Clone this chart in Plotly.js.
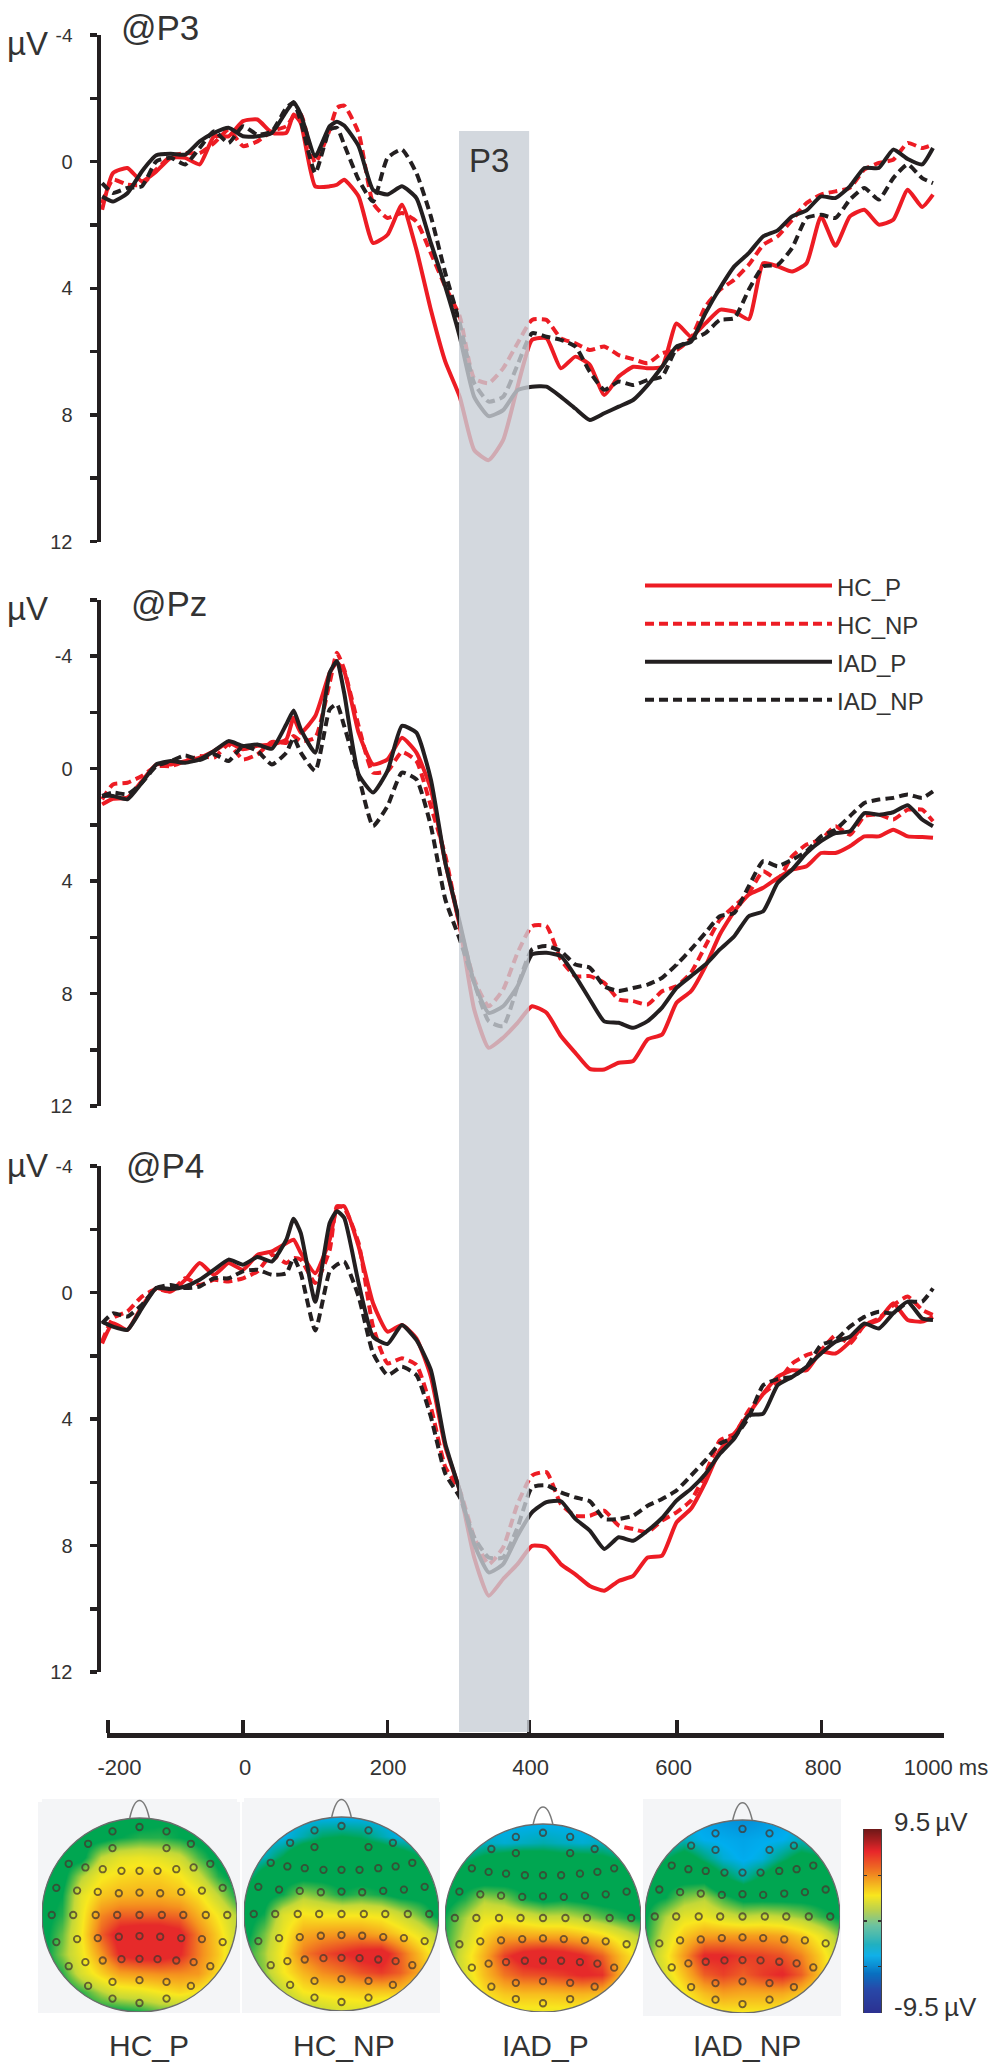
<!DOCTYPE html>
<html><head><meta charset="utf-8">
<script src="https://cdn.plot.ly/plotly-3.0.1.min.js"></script>
<style>html,body{margin:0;padding:0;background:#fff}</style></head>
<body><div id="chart" style="width:1000px;height:2069px"></div>
<script>
// ---------- ERP waveforms (ms, microvolts) ----------
const time = [-195,-180,-160,-140,-120,-100,-80,-60,-40,-20,0,20,40,60,70,80,100,120,130,140,160,180,200,220,240,260,280,300,
  320,340,360,380,400,420,440,460,480,500,520,540,560,580,600,620,640,660,680,700,720,740,760,780,800,820,840,860,880,900,920,940,955];

const P3_HC_P = [1.52,.36,.2,.62,.31,-.12,-.12,.09,-.8,-.8,-1.28,-1.33,-.91,-.91,-1.49,-1.22,.78,.78,.73,.57,1.1,2.57,2.31,1.36,2.78,4.68,6.32,7.43,
  9.11,9.43,8.8,7.11,5.63,5.58,6.53,6.16,6.42,7.37,6.79,6.48,6.53,6.48,5.11,5.53,5.11,4.68,4.74,4.98,3.21,3.31,3.47,3.21,1.73,2.66,1.73,1.52,1.99,1.84,.89,1.43,1.04];
const P3_HC_NP = [1.31,.57,.73,.73,.25,-.17,-.27,-.27,-.59,-1.01,-.49,-.64,-.96,-1.12,-1.43,-1.49,.04,-1.01,-1.7,-1.77,-.91,1.31,1.78,1.62,1.89,2.89,3.95,4.89,
  6.85,7.0,6.53,5.74,5.0,5.0,5.58,5.74,5.95,5.84,6.11,6.24,6.37,6.05,5.95,5.58,4.58,4.05,3.73,3.26,2.63,2.36,1.84,1.31,1.04,.94,.83,.25,.04,-.06,-.59,-.43,-.54];
const P3_IAD_P = [1.1,1.26,1.0,.31,-.2,-.25,-.22,-.64,-.91,-1.07,-.8,-.8,-.91,-1.59,-1.88,-1.49,-.17,-1.12,-1.26,-1.14,-.49,.89,1.04,.78,1.15,2.57,3.95,5.53,
  7.43,8.04,7.85,7.22,7.11,7.11,7.43,7.8,8.16,7.95,7.74,7.53,7.06,6.48,5.84,5.69,4.79,4.0,3.31,2.89,2.36,2.17,1.73,1.54,1.1,1.15,.78,.2,.2,-.38,-.08,.09,-.43];
const P3_IAD_NP = [.68,.99,.83,.78,-.01,-.12,.09,-.43,-.96,-.59,-1.12,-.85,-.96,-1.7,-1.86,-1.28,.36,-1.01,-1.07,-.54,.57,1.26,-.12,-.38,.36,1.73,3.52,5.1,
  7.0,7.58,7.43,6.42,5.42,5.53,5.63,5.84,6.64,7.21,6.95,7.06,6.9,6.79,5.9,5.63,5.42,5.0,4.95,4.05,3.31,3.26,2.73,1.78,1.68,1.78,1.2,.83,1.2,.52,.09,.52,.68];

const Pz_HC_P = [1.27,1.07,1.03,.44,-.15,-.15,-.27,-.39,-.63,-.92,-.69,-.81,-.86,-1.04,-1.81,-1.28,-1.87,-3.41,-3.77,-3.47,-1.28,-.15,-.33,-1.1,-.57,.73,3.34,5.59,
  8.57,9.93,9.57,9.04,8.45,8.68,9.51,10.11,10.68,10.7,10.46,10.4,9.63,9.46,8.33,7.92,7.03,5.9,5.07,4.48,4.24,3.89,3.59,3.47,3.0,3.0,2.76,2.41,2.41,2.17,2.41,2.43,2.46];
const Pz_HC_NP = [1.09,.56,.5,.26,-.09,-.09,-.27,-.45,-.39,-.86,-.33,-.51,-.95,-.92,-1.16,-.98,-1.1,-3.06,-4.12,-3.53,-1.52,.14,.08,-.59,-.27,1.33,3.1,5.59,
  7.5,8.45,7.86,6.55,5.6,5.6,6.79,7.38,7.38,7.62,8.21,8.27,8.39,7.92,7.74,7.26,6.31,5.37,4.89,4.42,3.65,3.95,3.12,2.7,2.52,2.05,2.35,1.69,1.63,1.81,1.46,1.46,1.87];
const Pz_IAD_P = [.97,.97,1.09,.5,-.15,-.27,-.21,-.33,-.63,-.98,-.81,-.86,-.71,-1.58,-2.07,-1.4,-.57,-3.41,-3.83,-2.7,.2,.85,.08,-1.52,-1.28,.38,3.34,5.47,
  7.62,8.69,8.45,7.74,6.61,6.55,6.67,7.38,8.21,8.99,9.04,9.22,8.98,8.5,7.8,7.38,6.97,6.43,5.96,5.25,5.07,4.06,3.59,3.0,2.58,2.29,2.23,1.58,1.64,1.55,1.3,1.81,2.05];
const Pz_IAD_NP = [.97,.85,.91,.5,-.09,-.27,-.47,-.31,-.51,-.27,-.81,-.63,-.15,-.57,-1.1,-.57,.08,-2.11,-2.29,-1.52,.26,2.04,1.33,.14,.38,2.04,4.65,6.07,
  7.62,8.98,9.16,7.74,6.43,6.31,6.49,6.97,7.08,7.74,7.91,7.8,7.68,7.44,6.97,6.43,5.84,5.25,5.13,4.18,3.29,3.47,3.24,2.94,2.41,2.17,1.69,1.22,1.1,1.04,.92,1.04,.81];

const P4_HC_P = [1.61,.97,1.18,.44,-.14,-.03,-.4,-.93,-.56,-.93,-.72,-1.19,-1.3,-1.56,-1.67,-1.25,-.61,-1.67,-2.67,-2.73,-1.46,.34,1.24,1.03,1.45,2.66,4.88,6.26,
  8.38,9.59,9.06,8.59,8.01,8.06,8.59,8.91,9.28,9.43,9.12,8.96,8.38,8.32,7.27,6.84,6.0,4.99,4.47,3.83,3.2,2.67,2.46,2.46,1.88,1.93,1.56,1.03,.87,.34,.87,.92,.77];
const P4_HC_NP = [1.55,.81,.6,.13,-.11,-.03,-.45,-.24,-.4,-.35,-.45,-.67,-1.19,-.93,-1.09,-1.04,-.3,-1.35,-2.73,-2.67,-1.56,1.08,2.24,2.08,2.29,3.62,5.52,6.26,
  7.74,8.59,8.06,6.69,5.79,5.68,6.69,7.06,7.06,6.9,7.37,7.48,7.58,7.21,6.95,6.58,5.73,4.68,4.47,3.73,3.2,2.83,2.25,1.98,1.82,1.35,1.61,1.03,.82,.4,.13,.55,.71];
const P4_IAD_P = [.92,1.08,1.18,.5,-.14,-.11,-.19,-.4,-.72,-1.04,-.88,-1.12,-.98,-1.67,-2.33,-1.88,.29,-2.2,-2.57,-2.36,-.3,1.4,1.63,1.03,1.5,2.45,4.78,6.26,
  7.95,8.85,8.59,7.69,6.95,6.63,6.6,7.16,7.53,8.11,7.74,7.85,7.53,7.13,6.58,6.21,5.74,5.1,4.62,3.88,3.83,2.93,2.67,2.35,1.93,1.56,1.4,.98,1.14,.66,.29,.82,.87];
const P4_IAD_NP = [.97,.66,.76,.39,-.14,-.24,-.14,-.19,-.45,-.45,-.67,-.72,-.56,-.61,-1.09,-.61,1.2,-.67,-.88,-.98,.13,1.92,2.61,2.35,2.61,3.93,5.73,6.47,
  7.74,8.38,8.38,7.43,6.16,6.1,6.32,6.48,6.6,7.16,7.16,7.06,6.74,6.53,6.26,5.79,5.31,4.78,4.57,3.94,2.93,2.74,2.67,2.35,1.66,1.5,1.08,.77,.61,.66,.29,.29,-.13];

const conditions = ['HC_P','HC_NP','IAD_P','IAD_NP'];
const channelNames = ['@P3','@Pz','@P4'];
const p3Window = [299,396];

// ---------- axes ----------
const yTicksShort = [-4,-2,0,2,4,6,8,10,12];
const yTicksLong  = [-6,-4,-2,0,2,4,6,8,10,12];
const yLabelsShort = ['<span style="font-size:19px">-4</span>','','0','','4','','8','','12'];
const yLabelsLong  = ['','-4','','0','','4','','8','','12'];
const xTickMarks = [-187,0,200,396,601,801];
const xLabelAt = [-171,3,201,398,596,803,973];
const xLabels = ['-200','0','200','400','600','800','1000 ms'];

// ---------- scalp maps: rows top to bottom, columns left to right ----------
const gridU = [-1,-.8,-.6,-.4,-.2,0,.2,.4,.6,.8,1];
const gridV = [1,.8,.6,.4,.2,0,-.2,-.4,-.6,-.8,-1];
const map_HC_P = [
 [-1,-1,-1,-1,-1,-1,-.8,-.6,-1,-1,-1],
 [-1,-1,-1,-1,-.6,-.3,-.3,-.6,-1,-1,-1],
 [-1,-1,-1,1,1.8,2,1.8,1.3,0,-1,-1],
 [-1,-1,.8,2.2,2.6,2.8,2.8,2.4,1.3,-.3,-1],
 [-1,-.6,1.8,3,3.4,3.5,3.5,3.2,2.5,1,-.5],
 [-1,-.3,2,4.3,5,5,5,4.8,3.5,2.2,.8],
 [-1,.2,2.2,5,6.5,6.8,6.8,6.3,4.5,2.8,1],
 [-1,.5,2,4,6,6.5,6.5,6,4.5,3,1],
 [-1,-.3,1.5,2.8,3.8,4,4.2,4.2,4,2.5,1],
 [-1,-1,-.3,.8,1.6,1.8,2.2,2.6,2.2,1.2,0],
 [-1,-1,-1,-.8,-.8,-.5,0,0,-.5,-1,-1]];
const map_HC_NP = [
 [-4.5,-4.5,-4.5,-4.5,-4.5,-4.5,-4.5,-4.5,-4.5,-4.5,-4.5],
 [-4.5,-4.5,-4.5,-3.8,-3,-2.8,-3,-3.8,-4.5,-4.5,-4.5],
 [-4.5,-4,-2.8,-1,-1,-1,-1,-1,-1.8,-3,-4],
 [-4,-2,-1,-1,-1,-1,-1,-1,-1,-1.2,-2],
 [-1.5,-1,-.5,.6,.2,-.5,-.2,-.5,-1,-1,-1],
 [-1,-.5,1.6,2.4,2.2,2.2,2.2,2,1.2,.2,-1],
 [-1,.3,2,3.6,3.9,4,4,3.6,2.8,1.8,.6],
 [-.5,.7,2.4,4.5,5.3,5.8,6.3,6.5,5,3.2,1.5],
 [-.5,.5,2.2,3.4,4.2,4.6,5.2,5.6,5,3.6,2],
 [-1,-.5,1,2.3,2.6,2.8,3,3,3,2,1],
 [-1,-1,0,.5,1,1.5,1.5,1,.5,0,-.5]];
const map_IAD_P = [
 [-4.5,-4.5,-4.5,-4.5,-4.5,-4.5,-4.5,-4.5,-4.5,-4.5,-4.5],
 [-4.5,-4.5,-4,-4.2,-4,-3.8,-4,-4.2,-4,-4.5,-4.5],
 [-4,-3,-2.2,-1.5,-1.2,-1.5,-1.8,-1.8,-2.2,-2.8,-3.5],
 [-1.5,-1,-1,-1,-1,-1,-1,-1,-1,-1,-1.5],
 [-1,-.3,.8,.5,-.4,-.8,-.6,-.8,-1,-1,-1],
 [-.5,.8,2,2,1.7,1.2,1.2,.8,.2,-.3,-.7],
 [-.3,1.2,2.8,3.8,3.8,3.8,3.8,3.4,2.8,1.8,.8],
 [-.3,1.8,3.5,5.5,6.5,6.8,6.5,6,5,3.2,1.8],
 [0,1.6,3.2,4.6,5.2,5.3,5.6,6,5.8,3.4,2],
 [.5,1,2.4,3,3.2,3.2,3.3,3.4,3.2,2,1],
 [1,1,1.5,2,2,2,2,2,1.5,1,1]];
const map_IAD_NP = [
 [-4.5,-4.5,-4.5,-4.8,-5.2,-5.5,-5.2,-4.8,-4.5,-4.5,-4.5],
 [-4.5,-4.5,-4,-4.5,-4.6,-4.8,-4.6,-4.5,-4,-4.5,-4.5],
 [-4,-3,-2,-3.2,-4.2,-4.6,-4.3,-3.2,-2.2,-2.6,-3.5],
 [-1.5,-1,-1,-1,-2.5,-3.6,-2.5,-1,-1,-1,-1],
 [-1,-.6,.4,.8,-.2,-1,-1,-1,-1,-1,-1],
 [-.7,.8,1.8,2,1.4,1,1.2,1,.6,-.2,-.8],
 [-.5,1.4,3,3.8,3.9,3.9,3.9,3.7,3,1.9,.4],
 [0,2,4,6,6,5.6,5.5,5.2,4.4,2.8,1],
 [0,1.6,3.2,5,5.5,5,5.6,6,5,3,1.5],
 [.5,.8,2.2,3.2,3.8,3.6,3.6,3.6,3,2,1],
 [1,1,1.5,2,2.2,2.2,2.2,2,1.5,1,1]];

// electrode positions in head units (x right, y up)
const electrodeU = [0,-.277,.277,-.527,.527,-.277,.277,-.726,.726,-.555,.555,-.377,.377,-.185,.185,0,
 -.853,.853,-.64,.64,-.428,.428,-.212,.212,0,-.9,-.68,-.449,-.229,0,.229,.449,.68,.9,
 -.853,.853,-.64,.64,-.428,.428,-.212,.212,0,-.726,.726,-.555,.555,-.377,.377,-.185,.185,0,
 -.527,.527,-.277,.277,0,-.277,.277,0];
const electrodeV = [.907,.862,.862,.734,.734,.69,.69,.528,.528,.49,.49,.472,.472,.455,.455,.455,
 .28,.28,.252,.252,.238,.238,.224,.224,.231,0,0,0,0,0,0,0,0,0,
 -.279,-.279,-.248,-.248,-.238,-.238,-.224,-.224,-.217,-.528,-.528,-.486,-.486,-.469,-.469,-.455,-.455,-.452,
 -.731,-.731,-.69,-.69,-.672,-.862,-.862,-.907];

// colour scales
const mapLevels = [-9.5,-6.5,-4.5,-2.8,-.6,1.0,2.3,4.1,5.9,7.4,9.5];
const mapColors = ['#2c3090','#0b6fc0','#00aeef','#00a651','#00a651','#c4d838','#f9e81e','#f5941e','#e62a2a','#e62a2a','#7a1a1a'];
const barLevels = [-9.5,-7,-5.4,-3.5,-2.4,-.4,1.1,2.7,5,7.2,9.5];
const barColors = ['#2c3090','#2848a8','#0870c0','#10b0e8','#20b0c0','#6cc2a0','#b8d050','#f8e61e','#f08020','#e8262a','#701818'];
const barValues = [-9.5,-8.5,-7.5,-6.5,-5.5,-4.5,-3.5,-2.5,-1.5,-.5,.5,1.5,2.5,3.5,4.5,5.5,6.5,7.5,8.5,9.5];
const barTicks = [-4.7,0,4.7];

// ---------- page geometry ----------
const W=1000, H=2069;
const px = v => v/W, py = v => 1-v/H;
const INK='#231f20', RED='#ed1c24', BG='#f4f5f7';
const FONT='"Liberation Sans", Arial, sans-serif';
const scale = (lv,cl)=>lv.map((v,i)=>[(v+9.5)/19,cl[i]]);

const panels = [
 {series:[P3_HC_P,P3_HC_NP,P3_IAD_P,P3_IAD_NP], y:'y',  top:35,  bottom:541.5, range:[12,-4], tv:yTicksShort, tt:yLabelsShort},
 {series:[Pz_HC_P,Pz_HC_NP,Pz_IAD_P,Pz_IAD_NP], y:'y2', top:600, bottom:1106,  range:[12,-6], tv:yTicksLong,  tt:yLabelsLong},
 {series:[P4_HC_P,P4_HC_NP,P4_IAD_P,P4_IAD_NP], y:'y3', top:1166,bottom:1672,  range:[12,-4], tv:yTicksShort, tt:yLabelsShort}
];
const styles = [{color:RED,dash:'solid'},{color:RED,dash:'9px,5px'},{color:INK,dash:'solid'},{color:INK,dash:'9px,5px'}];

const pxToMs = p => (p-243)/0.7225;
const traces=[];
panels.forEach((p,pi)=>p.series.forEach((s,si)=>{
  traces.push({type:'scatter',mode:'lines',x:time,y:s,xaxis:'x',yaxis:p.y,name:'<span style="font-size:24px">'+conditions[si]+'</span>',
    showlegend:pi===0,hoverinfo:'skip',
    line:{color:styles[si].color,dash:styles[si].dash,width:4,shape:'spline',smoothing:.5}});
}));
// carrier for the drawn time axis
traces.push({type:'scatter',mode:'lines',x:[0],y:[0],xaxis:'x2',yaxis:'y3',showlegend:false,hoverinfo:'skip',line:{color:'rgba(0,0,0,0)'}});

const layout = {
  width:W,height:H,margin:{l:0,r:0,t:0,b:0},paper_bgcolor:'#fff',plot_bgcolor:'rgba(0,0,0,0)',
  font:{family:FONT,color:INK},hovermode:false,
  legend:{x:px(640),xanchor:'left',y:py(561.5),yanchor:'top',itemwidth:187,bgcolor:'rgba(0,0,0,0)',borderwidth:0,
          font:{size:27,family:FONT,color:'#333'},tracegroupgap:0,itemclick:false,itemdoubleclick:false},
  xaxis:{domain:[px(101),1],range:[pxToMs(101),pxToMs(1000)],anchor:'free',position:py(1740),showgrid:false,zeroline:false,showline:false,
         ticks:'',tickmode:'array',tickvals:xLabelAt,ticktext:xLabels,tickangle:0,tickfont:{size:22,family:FONT,color:'#333'},ticklabelstandoff:12},
  xaxis2:{domain:[px(106.5),px(944)],range:[pxToMs(106.5),pxToMs(944)],anchor:'free',position:py(1735),showgrid:false,zeroline:false,
          showline:true,linecolor:INK,linewidth:5,ticks:'inside',ticklen:13,tickwidth:3.5,tickcolor:INK,tickmode:'array',tickvals:xTickMarks,ticktext:xTickMarks.map(()=>''),showticklabels:false},
  shapes:[],annotations:[]
};
panels.forEach((p,i)=>{
  layout[i?'yaxis'+(i+1):'yaxis']={domain:[py(p.bottom),py(p.top)],range:p.range,anchor:'x',showgrid:false,zeroline:false,
    showline:true,linecolor:INK,linewidth:4.5,ticks:'outside',ticklen:7,tickwidth:3.5,tickcolor:INK,tickmode:'array',tickvals:p.tv,ticktext:p.tt,
    tickfont:{size:20,family:FONT,color:'#333'},ticklabelstandoff:13};
});

// P3 window, above the waveforms so that they show through it
layout.shapes.push({type:'rect',layer:'above',xref:'x',yref:'paper',x0:p3Window[0],x1:p3Window[1],y0:py(1732),y1:py(131),
  fillcolor:'rgba(200,206,214,0.8)',line:{width:0}});

// ---------- text ----------
const note=(text,x,y,size,anchor,color)=>layout.annotations.push({text,xref:'paper',yref:'paper',x:px(x),y:py(y),showarrow:false,
  xanchor:anchor||'left',yanchor:'middle',font:{size,family:FONT,color:color||'#333'}});
note('P3',489,160,33,'center');
note(channelNames[0],119,27,35); note(channelNames[1],129,604,35); note(channelNames[2],124,1165,35);
note('µV',5,43,33); note('µV',5,609,33); note('µV',5,1165,33);
note('9.5\u2009µV',892,1822,26); note('-9.5\u2009µV',892,2007,26);

// ---------- scalp maps ----------
const heads=[
 {name:conditions[0],z:map_HC_P, x0:42, x1:237,top:1818,bottom:2012,label:148.6,bg:[38,240,1802,2013],fill:BG},
 {name:conditions[1],z:map_HC_NP,x0:244,x1:439,top:1817,bottom:2011,label:344.4,bg:[242,440,1802,2013],fill:BG},
 {name:conditions[2],z:map_IAD_P,x0:445,x1:641,top:1824,bottom:2012,label:545,  bg:null,fill:'#ffffff'},
 {name:conditions[3],z:map_IAD_NP,x0:645,x1:840,top:1820,bottom:2013,label:747.4,bg:[643,841,1799,2016],fill:BG}
];
const k=0.5523;
const ellipse=`M-1,0 C-1,${k} ${-k},1 0,1 C${k},1 1,${k} 1,0 C1,${-k} ${k},-1 0,-1 C${-k},-1 -1,${-k} -1,0 Z`;
heads.forEach((h,i)=>{
  const n=i+4, xa='x'+n, ya='y'+n, ry=(h.bottom-h.top)/2;
  layout['xaxis'+n]={domain:[px(h.x0),px(h.x1)],range:[-1,1],visible:false,anchor:ya,fixedrange:true};
  layout['yaxis'+n]={domain:[py(h.bottom),py(Math.round(h.top-0.2*ry))],range:[-1,1+Math.round(0.2*ry)/ry],visible:false,anchor:xa,fixedrange:true};
  traces.push({type:'heatmap',x:gridU,y:gridV,z:h.z,xaxis:xa,yaxis:ya,zmin:-9.5,zmax:9.5,zsmooth:'best',
    colorscale:scale(mapLevels,mapColors),showscale:false,hoverinfo:'skip'});
  traces.push({type:'scatter',mode:'markers',x:electrodeU,y:electrodeV,xaxis:xa,yaxis:ya,showlegend:false,hoverinfo:'skip',
    marker:{symbol:'circle-open',size:6.5,color:'rgba(70,55,45,0.75)',line:{width:1.8,color:'rgba(70,55,45,0.75)'}}});
  if(h.bg) layout.shapes.push({type:'rect',layer:'below',xref:'paper',yref:'paper',x0:px(h.bg[0]),x1:px(h.bg[1]),y0:py(h.bg[3]),y1:py(h.bg[2]),fillcolor:BG,line:{width:0}});
  layout.shapes.push({type:'path',layer:'above',xref:xa,yref:ya,fillrule:'evenodd',fillcolor:h.fill,line:{width:0},
    path:`M-1.03,-1.03 L1.03,-1.03 L1.03,1.25 L-1.03,1.25 Z ${ellipse}`});
  layout.shapes.push({type:'path',layer:'above',xref:xa,yref:ya,line:{color:'#6b6b6b',width:1.3},path:ellipse});
  layout.shapes.push({type:'path',layer:'above',xref:xa,yref:ya,line:{color:'#7a7a7a',width:1.5},path:'M-.1,1 C-.07,1.13 -.04,1.18 0,1.18 C.04,1.18 .07,1.13 .1,1'});
  note(h.name,h.label,2045,30,'center');
});

// ---------- colour bar ----------
layout.xaxis8={domain:[px(864),px(881)],range:[0,1],visible:false,anchor:'y8'};
layout.yaxis8={domain:[py(2013),py(1829)],range:[-9.5,9.5],anchor:'x8',showgrid:false,zeroline:false,showline:true,linecolor:'#444',linewidth:1,mirror:'ticks',
  ticks:'inside',ticklen:3,tickwidth:1.5,tickcolor:'#333',tickmode:'array',tickvals:barTicks,showticklabels:false};
traces.push({type:'heatmap',x:[0,1],y:barValues,z:barValues.map(v=>[v,v]),xaxis:'x8',yaxis:'y8',zmin:-9.5,zmax:9.5,zsmooth:'best',
  colorscale:scale(barLevels,barColors),showscale:false,hoverinfo:'skip'});

Plotly.newPlot('chart',traces,layout,{staticPlot:true,displayModeBar:false});
</script></body></html>
